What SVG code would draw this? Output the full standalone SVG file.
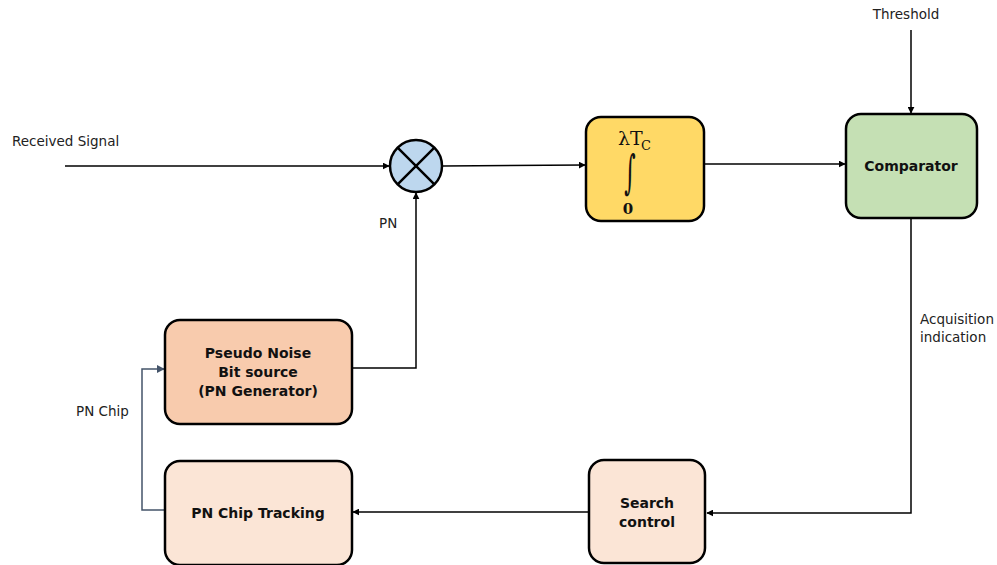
<svg xmlns="http://www.w3.org/2000/svg" width="997" height="565" viewBox="0 0 997 565">
<defs>
<style>
.box{stroke:#000;stroke-width:2.5}
.lbl{font-family:"DejaVu Sans",Verdana,sans-serif;font-size:13.5px;fill:#222}
.bold{font-family:"DejaVu Sans",Verdana,sans-serif;font-size:14px;font-weight:bold;fill:#111;text-anchor:middle}
.wire{fill:none;stroke:#000;stroke-width:1.5}
.serif{font-family:"DejaVu Serif","Liberation Serif",serif;fill:#111}
</style>
<marker id="ah" viewBox="0 0 10 10" refX="9" refY="5" markerWidth="7" markerHeight="7" markerUnits="userSpaceOnUse" orient="auto"><path d="M0,0 L10,5 L0,10 z" fill="#000"/></marker>
<marker id="ahb" viewBox="0 0 10 10" refX="9" refY="5" markerWidth="8" markerHeight="8" markerUnits="userSpaceOnUse" orient="auto"><path d="M0,0 L10,5 L0,10 z" fill="#44546A"/></marker>
</defs>
<rect width="997" height="565" fill="#fff"/>
<g id="connectors">
<path class="wire" d="M65,166 L389,166" marker-end="url(#ah)"/>
<path class="wire" d="M443,166 L585,165" marker-end="url(#ah)"/>
<path class="wire" d="M704,164 L845,164" marker-end="url(#ah)"/>
<path class="wire" d="M911,30 L911,113" marker-end="url(#ah)"/>
<path class="wire" d="M911,218 L911,513 L707,513" marker-end="url(#ah)"/>
<path class="wire" d="M589,512 L353,512" marker-end="url(#ah)"/>
<path class="wire" d="M353,368 L416,368 L416,193" marker-end="url(#ah)"/>
<path d="M165,510 L142,510 L142,369 L164,369" fill="none" stroke="#44546A" stroke-width="1.5" marker-end="url(#ahb)"/>
</g>
<g id="labels">
<text class="lbl" x="12" y="146">Received Signal</text>
<text class="lbl" x="906" y="19" text-anchor="middle">Threshold</text>
<text class="lbl" x="379" y="228">PN</text>
<text class="lbl" x="920" y="324">Acquisition</text>
<text class="lbl" x="920" y="342">indication</text>
<text class="lbl" x="76" y="416">PN Chip</text>
</g>
<g id="mixer">
<circle cx="416" cy="166" r="26" fill="#BDD7EE" stroke="#000" stroke-width="2.5"/>
<path d="M397.6,147.6 L434.4,184.4 M434.4,147.6 L397.6,184.4" stroke="#000" stroke-width="2.5"/>
</g>
<g id="integrator">
<rect class="box" x="586" y="117" width="118" height="104" rx="15" fill="#FFD966"/>
<text class="serif" x="618" y="145" font-size="19">λT</text>
<text class="serif" x="641" y="150" font-size="13">C</text>
<text class="serif" x="630" y="187" font-size="44" text-anchor="middle" transform="translate(630,171) scale(0.5,1.05) translate(-630,-171)">∫</text>
<text class="serif" x="628" y="214" font-size="15" font-weight="bold" text-anchor="middle">0</text>
</g>
<g id="comparator">
<rect class="box" x="846" y="114" width="131" height="104" rx="15" fill="#C5E0B4"/>
<text class="bold" x="911" y="171">Comparator</text>
</g>
<g id="pn-generator">
<rect class="box" x="165" y="320" width="187" height="104" rx="15" fill="#F8CBAD"/>
<text class="bold" x="258" y="358">Pseudo Noise</text>
<text class="bold" x="258" y="377">Bit source</text>
<text class="bold" x="258" y="396">(PN Generator)</text>
</g>
<g id="pn-chip-tracking">
<rect class="box" x="165" y="461" width="187" height="104" rx="15" fill="#FBE5D6"/>
<text class="bold" x="258" y="518">PN Chip Tracking</text>
</g>
<g id="search-control">
<rect class="box" x="589" y="460" width="116" height="103" rx="15" fill="#FBE5D6"/>
<text class="bold" x="647" y="508">Search</text>
<text class="bold" x="647" y="527">control</text>
</g>
</svg>
